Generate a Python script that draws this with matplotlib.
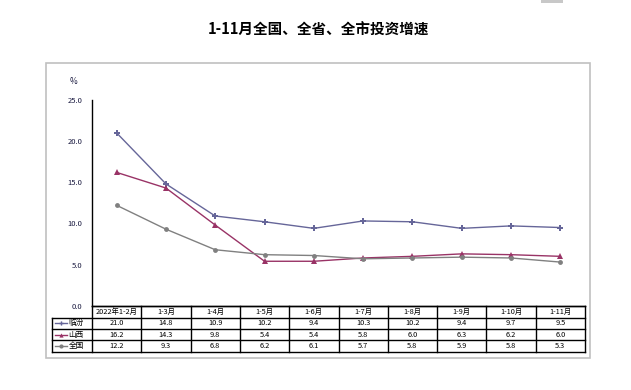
import matplotlib
matplotlib.use("Agg")
import matplotlib.pyplot as plt
from matplotlib.patches import Rectangle
from matplotlib.lines import Line2D
import matplotlib.transforms as mtransforms

plt.rcParams['font.family'] = ['Noto Sans CJK SC', 'DejaVu Sans']

title = "1-11月全国、全省、全市投资增速"
categories = ["2022年1-2月", "1-3月", "1-4月", "1-5月", "1-6月", "1-7月",
              "1-8月", "1-9月", "1-10月", "1-11月"]
series_names = ["临汾", "山西", "全国"]
linfen = [21.0, 14.8, 10.9, 10.2, 9.4, 10.3, 10.2, 9.4, 9.7, 9.5]
shanxi = [16.2, 14.3, 9.8, 5.4, 5.4, 5.8, 6.0, 6.3, 6.2, 6.0]
quanguo = [12.2, 9.3, 6.8, 6.2, 6.1, 5.7, 5.8, 5.9, 5.8, 5.3]
yticks = [0, 5, 10, 15, 20, 25]

colors = ["#666699", "#993366", "#808080"]
markers = ["P", "^", "o"]
msizes = [4, 4.5, 3.5]
W, H = 631, 390
fig = plt.figure(figsize=(W / 100, H / 100), dpi=100)

def fx(px):
    return px / W

def fy(py):
    return 1 - py / H

# outer border
fig.patches.append(Rectangle((fx(46), fy(358)), fx(590) - fx(46), fy(63) - fy(358),
                             transform=fig.transFigure, fill=False,
                             edgecolor="#c0c0c0", linewidth=1.2))
fig.patches.append(Rectangle((fx(541), fy(3)), fx(22), fy(0) - fy(3),
                             transform=fig.transFigure, fill=True,
                             facecolor="#c8c8c8", edgecolor="none"))

fig.text(0.505, fy(30), title, ha="center", va="center", fontsize=10.5, fontweight="bold")

left, right, top, bottom = 92, 585, 100, 305.7
ax = fig.add_axes([fx(left), fy(bottom), fx(right) - fx(left), fy(top) - fy(bottom)])
n = len(categories)
x = list(range(n))
data = [linfen, shanxi, quanguo]
for vals, c, m, ms in zip(data, colors, markers, msizes):
    ax.plot(x, vals, color=c, linewidth=1.0, marker=m, markersize=ms,
            markeredgewidth=0, clip_on=False)

ax.set_xlim(-0.5, n - 0.5)
ax.set_ylim(0, 25)
ax.set_yticks(yticks)
ax.set_yticklabels([f"{v:.1f}" for v in yticks], fontsize=5.5, color="#1a1a40")
ax.set_xticks([])
ax.tick_params(axis="y", length=0, pad=7)
for s in ["top", "right"]:
    ax.spines[s].set_visible(False)
ax.spines["left"].set_linewidth(1.0)
ax.spines["bottom"].set_linewidth(1.0)
ax.text(-0.03, 1.09, "%", transform=ax.transAxes, fontsize=6, ha="right", va="center",
        color="#1a1a40")

# data table
axh = bottom - top
def ay(py):
    return (bottom - py) / axh

trans = mtransforms.blended_transform_factory(ax.transData, ax.transAxes)
row_edges = [305.7, 317.5, 329, 340.3, 351.5]
unit = (right - left) / n
xl_leg = -0.5 - (left - 52) / unit
lk = dict(color="black", linewidth=1.0, transform=trans, clip_on=False)

# horizontal lines
ax.add_line(Line2D([-0.5, n - 0.5], [ay(row_edges[0])] * 2, **lk))
for r in row_edges[1:]:
    ax.add_line(Line2D([xl_leg, n - 0.5], [ay(r)] * 2, **lk))
# vertical lines
for i in range(n + 1):
    ax.add_line(Line2D([i - 0.5, i - 0.5], [ay(row_edges[0]), ay(row_edges[-1])], **lk))
ax.add_line(Line2D([xl_leg, xl_leg], [ay(row_edges[1]), ay(row_edges[-1])], **lk))

tk = dict(transform=trans, ha="center", va="center", fontsize=5.3, clip_on=False)
for i, cat in enumerate(categories):
    ax.text(i, ay((row_edges[0] + row_edges[1]) / 2), cat, **tk)
for r, (vals, name, c, m) in enumerate(zip(data, series_names, colors, markers)):
    yc = ay((row_edges[r + 1] + row_edges[r + 2]) / 2)
    for i, v in enumerate(vals):
        ax.text(i, yc, f"{v:.1f}", **tk)
    x0 = xl_leg + 3 / unit
    x1 = xl_leg + 15 / unit
    ax.add_line(Line2D([x0, x1], [yc, yc], color=c, linewidth=1.0, transform=trans,
                       clip_on=False))
    ax.add_line(Line2D([(x0 + x1) / 2], [yc], color=c, marker=m, markersize=3,
                       markeredgewidth=0, transform=trans, clip_on=False))
    ax.text(x1 + 1.5 / unit, yc, name, transform=trans, ha="left", va="center",
            fontsize=5.5, clip_on=False)

fig.savefig("out.png", dpi=100)
